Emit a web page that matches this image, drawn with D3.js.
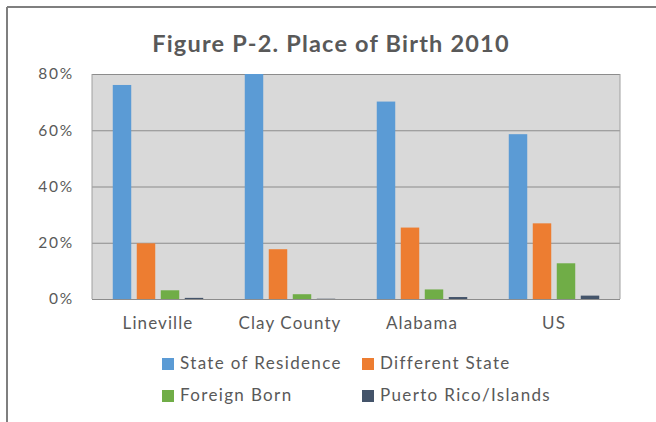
<!DOCTYPE html>
<html lang="en">
<head>
    <meta charset="UTF-8"/>
    <title>Figure P-2. Place of Birth 2010</title>
    <script src="https://d3js.org/d3.v7.min.js"></script>
    <style>
        body { margin: 0; background: #ffffff; }
        text { font-family: Lato, "Open Sans", sans-serif; fill: #595959; }
    </style>
</head>
<body>
    <script>
        var w = 656;
        var h = 422;

        // data (percent)
        var categories = ["Lineville", "Clay County", "Alabama", "US"];
        var series = ["State of Residence", "Different State", "Foreign Born", "Puerto Rico/Islands"];
        var colors = ["#5b9bd5", "#ed7d31", "#70ad47", "#44546a"];
        var stateOfResidence = [76.1, 80.0, 70.2, 58.6];
        var differentState = [19.8, 17.7, 25.4, 26.9];
        var foreignBorn = [3.1, 1.7, 3.4, 12.7];
        var puertoRico = [0.4, 0.1, 0.7, 1.2];
        var yTicks = [0, 20, 40, 60, 80];

        var values = [stateOfResidence, differentState, foreignBorn, puertoRico];

        var plot = { left: 92, right: 620, top: 74, bottom: 299 };

        var svg = d3.select("body")
                    .append("svg")
                    .attr("width", w)
                    .attr("height", h);

        // outer frame (top and left edges show)
        svg.append("line")
           .attr("x1", 7).attr("y1", 7).attr("x2", w).attr("y2", 7)
           .attr("stroke", "#7f7f7f").attr("stroke-width", 2);
        svg.append("line")
           .attr("x1", 7).attr("y1", 7).attr("x2", 7).attr("y2", h)
           .attr("stroke", "#7f7f7f").attr("stroke-width", 2);

        var x0 = d3.scaleBand()
                   .domain(categories)
                   .range([plot.left, plot.right]);

        var x1 = d3.scaleBand()
                   .domain(series)
                   .range([0, x0.bandwidth()])
                   .paddingInner(0.23)
                   .paddingOuter(0.865);

        var yScale = d3.scaleLinear()
                       .domain([0, 80])
                       .range([plot.bottom, plot.top]);

        svg.append("rect")
           .attr("x", plot.left)
           .attr("y", plot.top)
           .attr("width", plot.right - plot.left)
           .attr("height", plot.bottom - plot.top)
           .attr("fill", "#d9d9d9");

        var yAxis = d3.axisLeft(yScale)
                      .tickValues(yTicks)
                      .tickSize(-(plot.right - plot.left))
                      .tickPadding(18)
                      .tickFormat(function(d) { return d + "%"; });

        var gy = svg.append("g")
                    .attr("transform", "translate(" + plot.left + ",0)")
                    .call(yAxis);
        gy.select(".domain").remove();
        gy.selectAll(".tick line")
          .attr("stroke", "#8c8c8c")
          .attr("stroke-width", 1.2);
        gy.selectAll(".tick text")
          .attr("font-size", "15.5px")
          .attr("letter-spacing", "1.8px")
          .style("font-family", "Lato, sans-serif")
          .attr("fill", "#595959");

        // plot area sides
        svg.append("line")
           .attr("x1", plot.left).attr("y1", plot.top)
           .attr("x2", plot.left).attr("y2", plot.bottom)
           .attr("stroke", "#a0a0a0");
        svg.append("line")
           .attr("x1", plot.right).attr("y1", plot.top)
           .attr("x2", plot.right).attr("y2", plot.bottom)
           .attr("stroke", "#a0a0a0");

        var groups = svg.selectAll("g.group")
                        .data(categories)
                        .enter()
                        .append("g")
                        .attr("class", "group")
                        .attr("transform", function(d) { return "translate(" + x0(d) + ",0)"; });

        groups.selectAll("rect")
              .data(function(d, i) {
                  return series.map(function(s, j) {
                      return { key: s, value: values[j][i], color: colors[j] };
                  });
              })
              .enter()
              .append("rect")
              .attr("x", function(d) { return x1(d.key); })
              .attr("y", function(d) { return yScale(d.value); })
              .attr("width", x1.bandwidth())
              .attr("height", function(d) { return plot.bottom - yScale(d.value); })
              .attr("fill", function(d) { return d.color; });

        var xAxis = d3.axisBottom(x0)
                      .tickSize(0)
                      .tickPadding(18);

        var gx = svg.append("g")
                    .attr("transform", "translate(0," + plot.bottom + ")")
                    .call(xAxis);
        gx.select(".domain").remove();
        gx.selectAll(".tick text")
          .attr("font-size", "17px")
          .attr("letter-spacing", "1.1px")
          .style("font-family", "Lato, sans-serif")
          .attr("fill", "#595959");

        svg.append("text")
           .attr("text-anchor", "middle")
           .attr("x", 331)
           .attr("y", 52)
           .attr("font-size", "23.5px")
           .attr("font-weight", "bold")
           .attr("letter-spacing", "1.2px")
           .text("Figure P-2. Place of Birth 2010");

        // legend, 2 x 2
        var legend = svg.selectAll("g.legend")
                        .data(series)
                        .enter()
                        .append("g")
                        .attr("class", "legend")
                        .attr("transform", function(d, i) {
                            return "translate(" + (i % 2 === 0 ? 162 : 362) + "," + (i < 2 ? 358 : 390) + ")";
                        });

        legend.append("rect")
              .attr("width", 12)
              .attr("height", 12)
              .attr("fill", function(d, i) { return colors[i]; });

        legend.append("text")
              .attr("x", 18)
              .attr("y", 11)
              .attr("font-size", "17px")
              .attr("letter-spacing", "1.35px")
              .text(function(d) { return d; });
    </script>
</body>
</html>
